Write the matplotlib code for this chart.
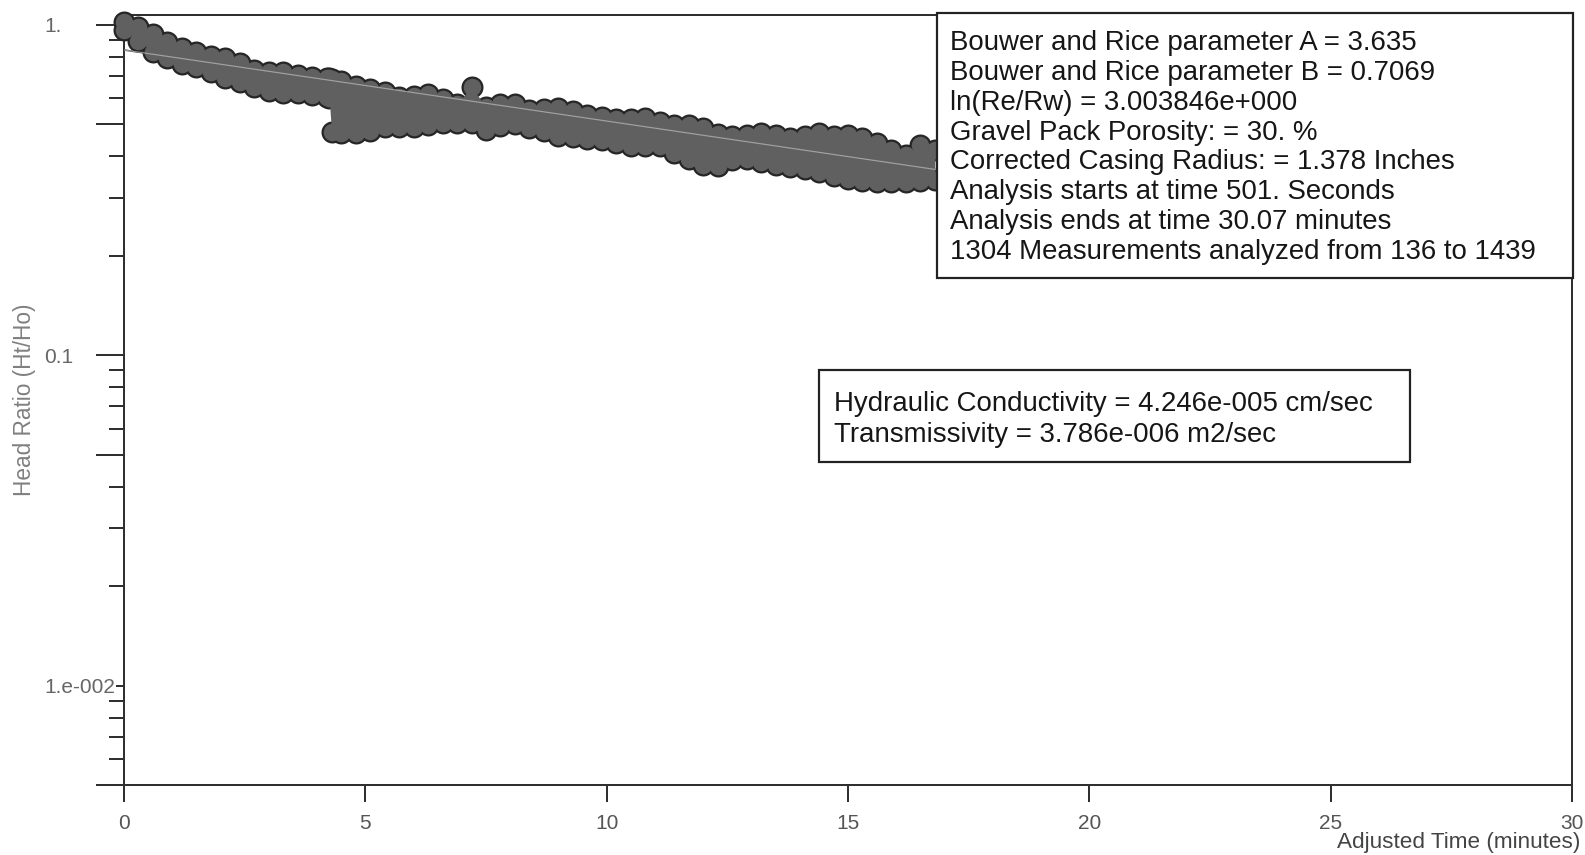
import matplotlib
matplotlib.use("Agg")
import matplotlib.pyplot as plt
from matplotlib.ticker import FixedLocator, FixedFormatter, NullFormatter
from matplotlib.patches import Rectangle

plt.rcParams['font.family'] = ['Liberation Sans', 'DejaVu Sans']

# ---------------- data ----------------
time_min = [0.0, 0.3, 0.6, 0.9, 1.2, 1.5, 1.8, 2.1, 2.4, 2.7, 3.0, 3.3, 3.6, 3.9,
            4.2, 4.25, 4.3, 4.5, 4.8, 5.1, 5.4, 5.7, 6.0, 6.3, 6.6, 6.9, 7.2, 7.5,
            7.8, 8.1, 8.4, 8.7, 9.0, 9.3, 9.6, 9.9, 10.2, 10.5, 10.8, 11.1, 11.4,
            11.7, 12.0, 12.3, 12.6, 12.9, 13.2, 13.5, 13.8, 14.1, 14.4, 14.7,
            15.0, 15.3, 15.6, 15.9, 16.2, 16.5, 16.8]
# upper side of the measurement band (Ht/Ho)
ratio_upper = [1.021, 0.986, 0.939, 0.888, 0.852, 0.828, 0.806, 0.792, 0.767, 0.733,
               0.720, 0.720, 0.708, 0.696, 0.691, 0.690, 0.687, 0.677, 0.653, 0.640,
               0.627, 0.605, 0.609, 0.618, 0.597, 0.576, 0.649, 0.564, 0.576, 0.576,
               0.553, 0.557, 0.560, 0.549, 0.534, 0.526, 0.519, 0.519, 0.523, 0.508,
               0.498, 0.498, 0.487, 0.467, 0.461, 0.464, 0.471, 0.464, 0.455, 0.461,
               0.471, 0.461, 0.464, 0.455, 0.439, 0.418, 0.404, 0.433, 0.418]
# lower side of the measurement band (Ht/Ho)
ratio_lower = [0.966, 0.894, 0.831, 0.794, 0.762, 0.746, 0.720, 0.693, 0.670, 0.649,
               0.633, 0.622, 0.622, 0.614, 0.605, 0.603, 0.474, 0.471, 0.471, 0.477,
               0.491, 0.491, 0.491, 0.498, 0.505, 0.505, 0.505, 0.480, 0.494, 0.501,
               0.487, 0.477, 0.461, 0.458, 0.451, 0.448, 0.439, 0.430, 0.430, 0.430,
               0.409, 0.393, 0.376, 0.374, 0.390, 0.393, 0.384, 0.376, 0.371, 0.366,
               0.358, 0.349, 0.341, 0.337, 0.334, 0.334, 0.334, 0.337, 0.339]
# Bouwer & Rice fitted straight line
fit_time = [0.0, 30.0]
fit_ratio = [0.84, 0.19]

x_ticks = [0, 5, 10, 15, 20, 25, 30]
y_major = [1.0, 0.5, 0.1, 0.05, 0.01, 0.005]
y_major_labels = ['1.', '', '0.1', '', '1.e-002', '']
y_minor = [0.9, 0.8, 0.7, 0.6, 0.4, 0.3, 0.2,
           0.09, 0.08, 0.07, 0.06, 0.04, 0.03, 0.02,
           0.009, 0.008, 0.007, 0.006]

box1_lines = ["Bouwer and Rice parameter A = 3.635",
              "Bouwer and Rice parameter B = 0.7069",
              "ln(Re/Rw) = 3.003846e+000",
              "Gravel Pack Porosity: = 30. %",
              "Corrected Casing Radius: = 1.378 Inches",
              "Analysis starts at time 501. Seconds",
              "Analysis ends at time 30.07 minutes",
              "1304 Measurements analyzed from 136 to 1439"]
box2_lines = ["Hydraulic Conductivity = 4.246e-005 cm/sec",
              "Transmissivity = 3.786e-006 m2/sec"]

# ---------------- figure ----------------
W, H = 1585, 855
DPI = 100
PT = 72.0 / DPI  # points per pixel

fig = plt.figure(figsize=(W / DPI, H / DPI), dpi=DPI, facecolor='white')
ax_l, ax_r, ax_t, ax_b = 124, 1572, 15, 785
ax = fig.add_axes([ax_l / W, 1 - ax_b / H, (ax_r - ax_l) / W, (ax_b - ax_t) / H])
ax.set_facecolor('white')
ax.set_yscale('log')
ax.set_xlim(0, 30)
ax.set_ylim(0.005, 1.072)

band_face = '#606060'
band_edge = '#262626'

ax.plot(fit_time, fit_ratio, color='#3a3a3a', lw=1.6 * PT, zorder=2)
for series in (ratio_upper, ratio_lower):
    ax.plot(time_min, series, ls='none', marker='o', markersize=22 * PT,
            markerfacecolor=band_edge, markeredgewidth=0, zorder=3, clip_on=False)
ax.fill_between(time_min, ratio_upper, ratio_lower, color=band_face, lw=0,
                zorder=4, clip_on=False)
for series in (ratio_upper, ratio_lower):
    ax.plot(time_min, series, ls='none', marker='o', markersize=17.5 * PT,
            markerfacecolor=band_face, markeredgewidth=0, zorder=4.5, clip_on=False)
ax.plot(fit_time, fit_ratio, color='#bdbdbd', lw=1.2 * PT, alpha=0.7, zorder=5)

# spines
for s in ax.spines.values():
    s.set_linewidth(2 * PT)
    s.set_color('#303030')

# x ticks
ax.xaxis.set_major_locator(FixedLocator(x_ticks))
ax.set_xticklabels([str(v) for v in x_ticks])
ax.tick_params(axis='x', which='major', direction='out', length=17 * PT,
               width=2 * PT, color='#303030', pad=12 * PT, labelsize=15,
               labelcolor='#555555')

# y ticks
ax.yaxis.set_major_locator(FixedLocator(y_major))
ax.yaxis.set_major_formatter(FixedFormatter(y_major_labels))
ax.yaxis.set_minor_locator(FixedLocator(y_minor))
ax.yaxis.set_minor_formatter(NullFormatter())
ax.tick_params(axis='y', which='major', direction='out', length=28 * PT,
               width=2 * PT, color='#303030', pad=52 * PT, labelsize=15,
               labelcolor='#666666')
ax.tick_params(axis='y', which='minor', direction='out', length=15 * PT,
               width=2 * PT, color='#303030')
for lab in ax.get_yticklabels():
    lab.set_horizontalalignment('left')
    if lab.get_text() == '1.e-002':
        lab.set_bbox(dict(facecolor='white', edgecolor='none', pad=1))

# axis titles
fig.text(1580 / W, 1 - 842 / H, 'Adjusted Time (minutes)', ha='right',
         va='center', fontsize=16.2, color='#444444')
fig.text(25 / W, 1 - 400 / H, 'Head Ratio (Ht/Ho)', rotation=90, ha='center',
         va='center', fontsize=16.3, color='#808080')


def add_box(x0, y0, x1, y1):
    fig.add_artist(Rectangle((x0 / W, 1 - y1 / H), (x1 - x0) / W, (y1 - y0) / H,
                             transform=fig.transFigure, facecolor='white',
                             edgecolor='#222222', lw=2.2 * PT, zorder=10))


add_box(937, 13, 1573, 278)
for i, line in enumerate(box1_lines):
    yc = 40.4 + 29.75 * i
    fig.text(950 / W, 1 - (yc + 10) / H, line, ha='left', va='baseline',
             fontsize=19.9, color='#161616', zorder=11)

add_box(819, 370, 1410, 462)
for i, line in enumerate(box2_lines):
    yc = 401.3 + 30.3 * i
    fig.text(834 / W, 1 - (yc + 10) / H, line, ha='left', va='baseline',
             fontsize=19.9, color='#161616', zorder=11)

fig.savefig('out.png', dpi=DPI, facecolor='white')
